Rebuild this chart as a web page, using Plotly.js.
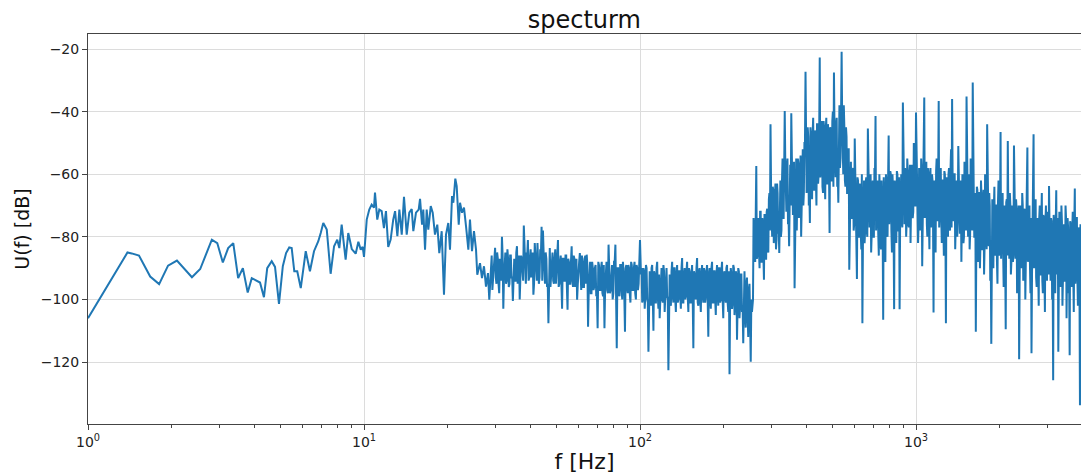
<!DOCTYPE html>
<html><head><meta charset="utf-8">
<script src="https://cdn.plot.ly/plotly-3.0.1.min.js"></script>
<style>html,body{margin:0;padding:0;background:#fff}#chart{width:1081px;height:475px}</style>
</head><body><div id="chart"></div>
<script>
// Low-frequency part: individual spectral lines
const freqLow = [1.00,1.39,1.44,1.53,1.68,1.81,1.95,2.10,2.38,2.55,2.81,2.94,3.08,3.22,3.36,3.50,3.64,3.79,3.92,
  4.09,4.20,4.34,4.46,4.63,4.76,4.92,5.08,5.22,5.36,5.47,5.59,5.73,5.90,6.15,6.37,6.59,6.83,6.97,7.12,7.33,7.57,7.79,8.00,8.14,8.30,8.58,8.77,9.03,9.33,9.54,9.73,
  9.89,10.00,10.23,10.45,10.66,10.87,10.96,11.17,11.36,11.59,11.81,12.01,12.24,12.49,12.76,12.96,13.21,13.43,13.70,13.96,14.28,14.59,14.89,15.09,15.43,15.78,15.96,16.23,16.40,16.64,16.87,17.10,17.45,17.74,18.08,18.43,18.74,19.12,19.49,19.82,20.20,20.49,20.84,21.07,21.42,21.67,22.04,22.28,22.65,23.03,23.42,23.88,24.21,24.62,25.03,25.46,25.73,26.32,26.76,27.21,27.67,28.13,28.44];
const dbLow = [-106,-85.0,-85.3,-86.0,-92.7,-95.1,-89.2,-87.6,-92.9,-90.3,-80.9,-82.0,-88.2,-83.6,-82.0,-93.2,-90.0,-97.8,-93.2,
  -94.2,-94.6,-99.3,-90.0,-87.8,-89.6,-101.4,-89.4,-85.2,-83.4,-83.6,-91.0,-91.0,-96.4,-84.6,-91.0,-84.6,-81.4,-78.8,-75.6,-77.7,-91.8,-83.0,-80.9,-83.6,-76.1,-87.3,-78.8,-83.9,-85.4,-81.6,-84.1,
  -83.2,-86.4,-74.5,-71.3,-69.7,-70.7,-65.9,-74.5,-71.3,-71.8,-77.2,-71.8,-83.2,-80.9,-74.5,-71.8,-79.8,-71.3,-79.3,-67.2,-79.3,-72.3,-71.1,-78.2,-72.3,-71.3,-67.9,-76.1,-71.3,-84.1,-71.3,-77.7,-70.2,-72.3,-79.3,-76.1,-85.2,-78.2,-98.5,-79.3,-75.6,-84.1,-67.0,-69.1,-61.4,-63.8,-76.1,-69.1,-72.3,-70.7,-76.6,-84.1,-74.5,-84.6,-78.2,-84.1,-92.1,-88.4,-93.2,-89.4,-95.9,-91.6,-100.1];

// Dense part: samples in frequency bands [start, end] Hz.
// *_db are the extremes (peaks and dips), *_mid the in-between samples of the noise body.
const bandA_hz = [28.85, 100];
const bandA_db = [-90,-97,-88,-83.5,-95,-87,-98,-89,-80,-103,
  -88,-95,-84,-96,-86,-93,-100.5,-87,-94,-83,
  -92,-100,-86,-91,-76.4,-94,-85,-81,-93,-84,
  -90,-98.5,-82,-92,-82,-95,-84,-76.8,-78,-93,
  -85,-96,-107.6,-83.6,-92,-85,-95,-84,-91,-81,
  -95,-86,-103,-87,-94,-86,-103.3,-88,-95,-83,
  -96,-87,-94,-100.1,-88,-85.2,-97,-88,-96,-86,
  -85.7,-108.7,-89,-98,-88,-97,-90,-99,-109.2,-89,
  -97,-88,-99,-109.2,-90,-97,-82.5,-98,-89,-100,
  -88,-82.5,-115.6,-90,-99,-89,-100,-91,-110.3,-89,
  -98,-90,-101,-89,-97,-88,-100,-90,-95,-81];
const bandA_mid = [-86,-94,-87,-93,-85,-95,-87,-94,-86,-93,
  -85,-94,-87,-95,-86,-93,-87,-94,-85,-95,
  -86,-93,-87,-94,-85,-95,-86,-94,-87,-93,
  -85,-95,-86,-94,-87,-93,-86,-94,-85,-95,
  -87,-95,-86,-96,-88,-94,-87,-95,-86,-96,
  -88,-95,-87,-94,-86,-96,-87,-95,-88,-94,
  -86,-96,-87,-95,-88,-94,-86,-96,-87,-95,
  -89,-97,-88,-98,-90,-96,-89,-98,-88,-97,
  -90,-98,-89,-96,-88,-98,-90,-97,-89,-98,
  -88,-96,-90,-98,-89,-97,-88,-98,-90,-96,
  -89,-98,-88,-97,-90,-98,-89,-97,-88];
const bandB_hz = [100.8, 254.5];
const bandB_db = [-92,-101,-90,-103,-89,-100,-116.7,-91,-102,-89,
  -110,-92,-101,-88,-103,-106,-90,-100,-89,-104,
  -91,-99,-122.6,-92,-102,-88,-101,-90,-104,-89,
  -100,-91,-103,-86.8,-101,-90,-99,-88,-104,-91,
  -101,-89,-115.6,-92,-100,-86.8,-102,-90,-104,-89,
  -101,-91,-99,-89,-111.9,-90,-103,-88,-101,-91,
  -105,-89,-102,-90,-100,-88,-106,-91,-101,-89,
  -104,-123.9,-90,-103,-89,-105,-91,-112.9,-90,-106,
  -92,-104,-114,-91,-109,-93,-112,-95,-119.9,-104];
const bandB_mid = [-90,-100,-91,-99,-90,-101,-92,-99,-90,-100,
  -91,-101,-90,-99,-92,-100,-90,-101,-91,-99,
  -90,-100,-92,-101,-91,-99,-90,-100,-92,-101,
  -91,-99,-90,-101,-92,-100,-91,-99,-90,-101,
  -92,-100,-91,-99,-90,-101,-91,-100,-92,-99,
  -90,-101,-91,-100,-92,-99,-90,-101,-91,-100,
  -92,-99,-90,-101,-91,-100,-92,-99,-90,-101,
  -91,-100,-92,-101,-90,-102,-92,-103,-91,-102,
  -92,-102,-94,-103,-95,-105,-97,-106,-100];
const bandC_hz = [256.7, 1000];
const bandC_db = [-100,-78,-88,-57.4,-86,-74,-90,-72,-88,-76,
  -93.7,-73,-87,-71,-85,-66,-44,-80,-64,-82,
  -67,-84,-63,-79,-85.2,-62,-78,-55,-74,-39.8,
  -70,-58,-76,-83,-57,-40.5,-72,-60,-96.4,-62,
  -78,-55,-74,-58,-80,-53,-70,-50,-27.3,-66,
  -45,-70,-75.6,-48,-68,-42,-65,-47,-70,-44,
  -60,-22.7,-58,-43,-66,-45,-68,-42,-63,-48,
  -78.8,-46,-62,-40,-27.5,-60,-44,-64,-69.1,-38,
  -55,-20.9,-50,-38,-62,-45,-66,-52,-90.5,-58,
  -74,-60,-78,-48.6,-72,-93.5,-62,-80,-65,-84,
  -107.6,-66,-82,-63,-78,-45.4,-76,-62,-85,-64,
  -80,-58,-41.4,-74,-62,-86,-66,-84,-70,-106.5,
  -68,-88,-63,-80,-47.6,-72,-60,-85,-65,-103.1,
  -64,-82,-60,-78,-103.1,-62,-75,-37.1,-70,-58,
  -80,-55,-76,-62,-82,-57,-74,-50,-70,-40.3];
const bandC_mid = [-74,-86,-73,-87,-75,-85,-72,-88,-74,-86,-73,-87,-72,-84,-68,-78,
  -64,-80,-65,-79,-63,-81,-66,-78,-64,-80,-62,-74,-58,
  -56,-72,-55,-74,-57,-70,-54,-73,-56,-72,-55,-70,-57,-71,-54,-70,-52,-66,-50,
  -46,-64,-48,-66,-45,-63,-47,-65,-46,-62,-44,-63,-47,-61,-45,-64,-43,-62,-46,-63,-44,-60,-45,-62,-43,-64,-46,-61,-42,-60,-44,-58,-41,
  -42,-60,-45,-64,-48,-66,-52,-70,-56,-74,-58,-76,
  -62,-78,-61,-80,-63,-79,-60,-81,-62,-78,-61,-80,-63,-77,-60,-79,-62,-80,-61,-78,-63,-79,-60,-81,-62,-78,-61,-79,
  -60,-77,-61,-76,-59,-78,-60,-77,-62,-76,-59,-78,-61,-75,-60,-77,-58,-76,-61,-75,-59,-77,-57,-74,-58,-72,-55,-70];
const bandD_hz = [1008.7, 3961];
const bandD_db = [-62,-82,-58,-78,-55,-89.4,-60,-35.5,-70,-56,
  -80,-60,-84,-58,-76,-62,-104.2,-64,-85,-55,
  -72,-36.6,-68,-58,-82,-62,-86,-60,-107.6,-64,
  -80,-58,-78,-52,-36,-70,-60,-84,-63,-80,
  -51,-76,-62,-88,-60,-82,-56,-74,-35.2,-70,
  -60,-84,-55,-70,-30.7,-66,-80,-110.3,-64,-88,
  -66,-90,-62,-84,-68,-92,-60,-78,-44,-72,
  -66,-94,-114.2,-68,-90,-64,-86,-70,-95,-62,
  -80,-46.5,-74,-66,-96,-70,-109.5,-68,-49.4,-78,
  -66,-92,-70,-88,-50.8,-76,-68,-98,-72,-119.1,
  -70,-90,-66,-94,-72,-100,-68,-51.5,-80,-70,
  -98,-117.2,-72,-47.2,-78,-68,-96,-74,-102,-70,
  -92,-66,-98,-74,-104,-70,-94,-72,-63.8,-88,
  -74,-100,-125.8,-76,-98,-65.1,-84,-116.7,-72,-96,
  -70,-102,-76,-94,-70,-106,-74,-98,-117.8,-76,
  -96,-72,-104,-64.6,-90,-74,-102,-78,-133.8,-98];
const bandD_mid = [-60,-76,-61,-75,-59,-77,-62,-74,-60,-76,-58,-75,-61,-77,-60,-74,-62,-76,-59,-75,
  -61,-77,-60,-74,-62,-76,-59,-78,-61,-75,-60,-76,-58,-77,-61,-75,-60,-76,-62,-74,
  -62,-79,-63,-78,-61,-80,-64,-78,-62,-80,-63,-79,-61,-78,-64,-80,-66,-82,-65,-83,
  -66,-82,-67,-84,-65,-83,-66,-84,-67,-83,
  -70,-86,-69,-87,-71,-85,-70,-88,-69,-86,-71,-87,-70,-85,-72,-88,-69,-86,-71,-87,
  -70,-88,-72,-86,-69,-87,-71,-88,-70,-86,-72,-87,-70,-89,-71,-86,-72,-88,-70,-89,
  -74,-92,-75,-90,-73,-93,-76,-91,-74,-92,-75,-94,-73,-91,-76,-93,-74,-92,-77,-94,
  -75,-91,-73,-93,-76,-92,-74,-95,-77,-93,-75,-92,-76,-94,-74,-95,-77,-93,-75,-94,
  -78,-92,-76,-95,-74,-93,-77,-94,-76];

const xTickVals = [1, 10, 100, 1000];
const xTickText = ['10<sup>0</sup>', '10<sup>1</sup>', '10<sup>2</sup>', '10<sup>3</sup>'];
const xMinorVals = [2,3,4,5,6,7,8,9,20,30,40,50,60,70,80,90,200,300,400,500,600,700,800,900,2000,3000];
const yTickVals = [-120, -100, -80, -60, -40, -20];

// lay the samples of a band evenly (in log f) between its two edge frequencies,
// with each in-between sample midway between its neighbours
function bandPoints(range, ext, mid) {
  const a = Math.log10(range[0]), b = Math.log10(range[1]), n = ext.length;
  const fx = [], fy = [];
  for (let i = 0; i < n; i++) {
    const li = a + (b - a) * i / (n - 1);
    fx.push(Math.pow(10, li)); fy.push(ext[i]);
    if (i < n - 1 && mid[i] !== undefined) {
      fx.push(Math.pow(10, li + (b - a) / (n - 1) / 2)); fy.push(mid[i]);
    }
  }
  return [fx, fy];
}

const pA = bandPoints(bandA_hz, bandA_db, bandA_mid);
const pB = bandPoints(bandB_hz, bandB_db, bandB_mid);
const pC = bandPoints(bandC_hz, bandC_db, bandC_mid);
const pD = bandPoints(bandD_hz, bandD_db, bandD_mid);
const x = freqLow.concat(pA[0], pB[0], pC[0], pD[0]);
const y = dbLow.concat(pA[1], pB[1], pC[1], pD[1]);

const font = 'DejaVu Sans, sans-serif';
const trace = {x: x, y: y, type: 'scatter', mode: 'lines',
  line: {color: '#1f77b4', width: 2}, hoverinfo: 'skip'};

const layout = {
  width: 1081, height: 475,
  margin: {l: 88, r: 0, t: 34, b: 51},
  paper_bgcolor: '#ffffff', plot_bgcolor: '#ffffff',
  showlegend: false,
  font: {family: font, color: '#222', size: 14},
  title: {text: 'specturm', font: {family: font, size: 24, color: '#111'},
          x: 0.5405, xref: 'container', xanchor: 'center', y: 0.958, yref: 'container', yanchor: 'middle'},
  xaxis: {type: 'log', range: [0, Math.log10(3961)], tickmode: 'array', tickvals: xTickVals, ticktext: xTickText,
    ticks: 'outside', ticklen: 5, tickcolor: '#444', tickwidth: 1,
    minor: {tickmode: 'array', tickvals: xMinorVals, ticks: 'outside', ticklen: 3, tickcolor: '#444', showgrid: false},
    showgrid: true, gridcolor: '#dcdcdc', gridwidth: 1, zeroline: false,
    showline: true, linecolor: '#444', linewidth: 1, mirror: true,
    tickfont: {family: font, size: 14, color: '#222'},
    title: {text: 'f [Hz]', font: {family: font, size: 22, color: '#111'}, standoff: 4}},
  yaxis: {range: [-139.8, -15.2], tickmode: 'array', tickvals: yTickVals,
    ticks: 'outside', ticklen: 5, tickcolor: '#444', tickwidth: 1,
    showgrid: true, gridcolor: '#dcdcdc', gridwidth: 1, zeroline: false,
    showline: true, linecolor: '#444', linewidth: 1,
    tickfont: {family: font, size: 14, color: '#222'},
    title: {text: 'U(f) [dB]', font: {family: font, size: 19, color: '#111'}, standoff: 6}}
};

Plotly.newPlot('chart', [trace], layout, {staticPlot: true, displayModeBar: false});
</script></body></html>
